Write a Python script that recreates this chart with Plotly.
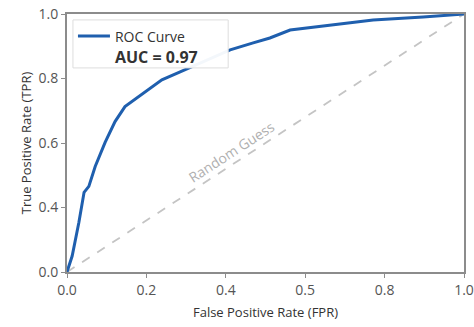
import plotly.graph_objects as go

# ROC curve data
fpr = [0.0, 0.013, 0.030, 0.043, 0.055, 0.071, 0.096, 0.121, 0.146, 0.181, 0.214,
       0.239, 0.285, 0.411, 0.469, 0.511, 0.562, 0.645, 0.771, 0.897, 1.0]
tpr = [0.0, 0.062, 0.193, 0.309, 0.332, 0.409, 0.502, 0.583, 0.641, 0.680, 0.714,
       0.745, 0.776, 0.861, 0.888, 0.907, 0.938, 0.954, 0.977, 0.988, 1.0]

diag_x = [0.0, 1.0]
diag_y = [0.0, 1.0]

auc_label = "AUC = 0.97"

x_tick_vals = [0.0, 0.2, 0.4, 0.6, 0.8, 1.0]
x_tick_text = ["0.0", "0.2", "0.4", "0.5", "0.8", "1.0"]
y_tick_vals = [0.0, 0.25, 0.5, 0.75, 1.0]
y_tick_text = ["0.0", "0.4", "0.6", "0.8", "1.0"]

font_family = "Open Sans, Noto Sans, DejaVu Sans, sans-serif"

fig = go.Figure()

fig.add_trace(go.Scatter(
    x=diag_x, y=diag_y, mode="lines",
    line=dict(color="#c4c4c4", width=1.8, dash="dash"),
    showlegend=False, hoverinfo="skip",
))

fig.add_trace(go.Scatter(
    x=fpr, y=tpr, mode="lines", name="ROC Curve",
    line=dict(color="#1f5fae", width=3),
))

fig.add_trace(go.Scatter(
    x=[None], y=[None], mode="lines",
    name=f"<span style='font-size:16px'><b>{auc_label}</b></span>",
    line=dict(color="rgba(0,0,0,0)", width=0),
))

fig.add_annotation(
    x=0.415, y=0.467, xref="x", yref="y",
    text="Random Guess", showarrow=False, textangle=-33,
    font=dict(family=font_family, size=14, color="#b0b0b0"),
)

# legend frame
fig.add_shape(
    type="rect", xref="paper", yref="paper",
    x0=0.015, x1=0.406, y0=0.791, y1=0.977,
    fillcolor="rgba(255,255,255,0.95)", line=dict(color="#dddddd", width=1),
    layer="above",
)

axis_common = dict(
    showline=True, linecolor="#8c8c8c", linewidth=2, mirror=True,
    ticks="outside", ticklen=4, tickcolor="#8c8c8c", tickwidth=1,
    showgrid=False, zeroline=False, automargin=False,
    tickfont=dict(family=font_family, size=14, color="#555555"),
)

fig.update_xaxes(
    range=[0, 1], tickvals=x_tick_vals, ticktext=x_tick_text,
    title=dict(text="False Positive Rate (FPR)", standoff=10,
               font=dict(family=font_family, size=13, color="#333333")),
    **axis_common,
)
fig.update_yaxes(
    range=[0, 1], tickvals=y_tick_vals, ticktext=y_tick_text,
    title=dict(text="True Positive Rate (TPR)", standoff=4,
               font=dict(family=font_family, size=13, color="#333333")),
    **axis_common,
)

fig.update_layout(
    width=474, height=327,
    margin=dict(l=67, r=10, t=14, b=55),
    plot_bgcolor="white", paper_bgcolor="white",
    font=dict(family=font_family, size=13, color="#333333"),
    legend=dict(
        x=0.015, y=0.975, xanchor="left", yanchor="top",
        bgcolor="rgba(0,0,0,0)", borderwidth=0,
        font=dict(family=font_family, size=14, color="#333333"),
        itemwidth=32, tracegroupgap=4,
    ),
)

fig.write_html(
    "out.html",
    config={"displayModeBar": False},
    post_script="document.body.style.margin='0';document.body.style.overflow='hidden';",
)
